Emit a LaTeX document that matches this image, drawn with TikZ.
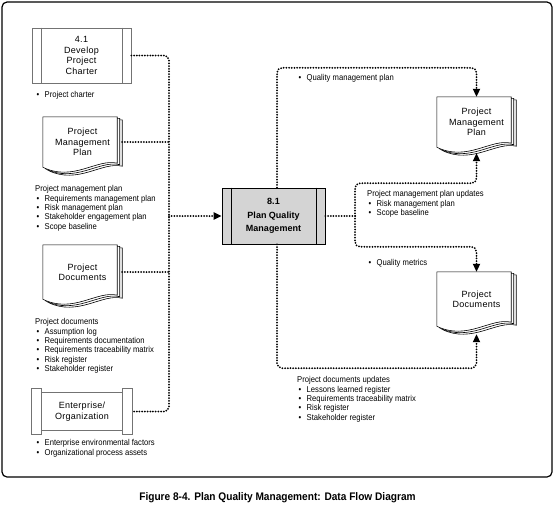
\documentclass[tikz,border=0pt]{standalone}
\usepackage{fontspec}
\setmainfont{Liberation Sans}
\newfontfamily\boxfont{Liberation Sans}[LetterSpace=3]
\newfontfamily\lblfont{Liberation Sans}[FakeStretch=0.9]
\newfontfamily\capfont{Liberation Sans}[FakeStretch=0.92]
\usetikzlibrary{arrows.meta,calc}
\pgfdeclarelayer{background}
\pgfsetlayers{background,main}

\newcommand{\bul}{\hspace{1.5pt}\makebox[8pt][l]{\textbullet}}
\newcommand{\docpages}[1]{%
  \begin{pgfonlayer}{background}
  \foreach \dx/\dy in {5/3,2.5/1.5,0/0}
    \path[draw=black,fill=white,line width=0.6pt]
      ($(#1.north west)+(\dx,\dy)$) -- ($(#1.north east)+(\dx-5,\dy)$)
      -- ($(#1.south east)+(\dx-5,\dy-4)$)
      .. controls ($(#1.south east)+(\dx-25,\dy-9)$) and ($(#1.south west)+(\dx+30,\dy+15)$)
      .. ($(#1.south west)+(\dx,\dy)$) -- cycle;
  \end{pgfonlayer}}

\tikzset{
  boxtext/.style={font=\boxfont\fontsize{9}{10.4}\selectfont, text=black, align=center, inner sep=0pt},
  docnode/.style={boxtext, minimum width=79pt, minimum height=50pt},
  extbox/.style={boxtext, draw=black!55, line width=0.7pt, minimum width=99pt, minimum height=55pt},
  procbox/.style={draw=black, fill=black!17, line width=0.7pt, minimum width=103pt, minimum height=56pt,
    align=center, inner sep=0pt, font=\bfseries\fontsize{9}{13.5}\selectfont},
  lbl/.style={anchor=north west, inner sep=0pt, align=left, font=\lblfont\fontsize{8.5}{9.3}\selectfont},
  flow/.style={line width=2pt, dash pattern=on 0pt off 2.7pt, line cap=round, rounded corners=5pt},
  flowto/.style={flow, -{Triangle[length=8pt,width=7pt]}}
}

\begin{document}
\begin{tikzpicture}[x=1pt, y=1pt, yscale=-1]
\useasboundingbox (0,0) rectangle (555,514);
\path[draw=black,line width=1.2pt,rounded corners=5pt] (2,2) rectangle (552,477);

\node[extbox] (charter) at (81.5,55.5) {4.1\\Develop\\Project\\Charter};
\path[draw=black!55,line width=0.7pt] ($(charter.north west)+(10,0)$) -- ($(charter.south west)+(10,0)$)
  ($(charter.north east)+(-9,0)$) -- ($(charter.south east)+(-9,0)$);
\node[lbl] (lblcharter) at (35,91.5) {\bul Project charter};

\node[docnode] (pmpin) at (82.5,142) {Project\\Management\\Plan};
\docpages{pmpin}
\node[lbl] (lblpmpin) at (35,185.5) {Project management plan\\
  \bul Requirements management plan\\ \bul Risk management plan\\
  \bul Stakeholder engagement plan\\ \bul Scope baseline};

\node[docnode, minimum height=54pt] (docsin) at (82.5,272) {Project\\Documents};
\docpages{docsin}
\node[lbl] (lbldocsin) at (35,318.5) {Project documents\\ \bul Assumption log\\
  \bul Requirements documentation\\ \bul Requirements traceability matrix\\
  \bul Risk register\\ \bul Stakeholder register};

\node[boxtext, minimum width=100pt, minimum height=45pt] (eef) at (82,411.5) {Enterprise/\\Organization};
\path[draw=black!55,line width=0.7pt] (eef.north west) rectangle ($(eef.south west)+(9.5,0)$)
  ($(eef.north east)+(-9.5,0)$) rectangle (eef.south east)
  ($(eef.north west)+(9.5,4)$) rectangle ($(eef.south east)+(-9.5,-4)$);
\node[lbl] (lbleef) at (35,439.5) {\bul Enterprise environmental factors\\
  \bul Organizational process assets};

\node[procbox] (proc) at (273.5,216) {8.1\\Plan Quality\\Management};
\path[draw=black,line width=0.7pt] ($(proc.north west)+(10,0)$) -- ($(proc.south west)+(10,0)$)
  ($(proc.north east)+(-9,0)$) -- ($(proc.south east)+(-9,0)$);

\node[docnode] (pmpout) at (476.5,122) {Project\\Management\\Plan};
\docpages{pmpout}
\node[docnode, minimum height=54pt] (docsout) at (476.5,299) {Project\\Documents};
\docpages{docsout}

\coordinate (jn) at (169,216);
\coordinate (split) at (355,216);
\draw[flow] (charter.east) -| (jn |- eef.east) -- (eef.east);
\draw[flow] (pmpin.east) -- (pmpin.east -| jn);
\draw[flow] (docsin.east) -- (docsin.east -| jn);
\draw[flowto] (jn) -- (proc.west);

\draw[flowto] ($(proc.north)+(3.5,0)$) |- ($(pmpout.north)+(0,-29)$) -- (pmpout.north);
\draw[flow] (proc.east) -- (split);
\draw[flowto] (split) |- ($(pmpout.south)+(0,36)$) -- ($(pmpout.south)+(0,6)$);
\draw[flowto] (split) |- ($(docsout.north)+(0,-25)$) -- (docsout.north);
\draw[flowto] ($(proc.south)+(3.5,0)$) |- ($(docsout.south)+(0,42)$) -- ($(docsout.south)+(0,8)$);

\node[lbl] (lblqmp) at (297,74.5) {\bul Quality management plan};
\node[lbl] (lblpmpupd) at (367,190.5) {Project management plan updates\\
  \bul Risk management plan\\ \bul Scope baseline};
\node[lbl] (lblqm) at (367,259.5) {\bul Quality metrics};
\node[lbl] (lbldocsupd) at (297,376.5) {Project documents updates\\
  \bul Lessons learned register\\ \bul Requirements traceability matrix\\
  \bul Risk register\\ \bul Stakeholder register};

\node[font=\capfont\bfseries\fontsize{11}{13}\selectfont] (caption) at (277.5,498)
  {Figure 8-4. Plan Quality Management: Data Flow Diagram};
\end{tikzpicture}
\end{document}
